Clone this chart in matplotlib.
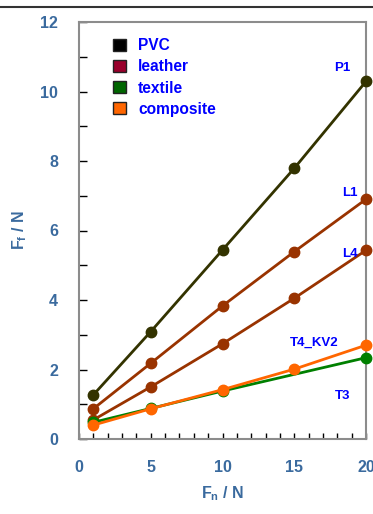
import matplotlib
matplotlib.use("Agg")
import matplotlib.pyplot as plt
from matplotlib.patches import Patch
from matplotlib.lines import Line2D

plt.rcParams['font.family'] = ['Liberation Sans', 'DejaVu Sans']
plt.rcParams['mathtext.fontset'] = 'custom'
plt.rcParams['mathtext.bf'] = 'Liberation Sans:bold'
plt.rcParams['mathtext.rm'] = 'Liberation Sans:bold'

# Friction force F_f versus normal force F_n for each material
pvc_x = [1, 5, 10, 15, 20]
pvc_y = [1.27, 3.09, 5.44, 7.79, 10.29]

l1_x = [1, 5, 10, 15, 20]
l1_y = [0.87, 2.18, 3.83, 5.39, 6.90]

l4_x = [1, 5, 10, 15, 20]
l4_y = [0.55, 1.50, 2.74, 4.05, 5.43]

t3_x = [1, 5, 10, 20]
t3_y = [0.48, 0.88, 1.38, 2.34]

kv2_x = [1, 5, 10, 15, 20]
kv2_y = [0.40, 0.87, 1.42, 2.01, 2.70]

legend_labels = ['PVC', 'leather', 'textile', 'composite']
legend_colors = ['#000000', '#99002B', '#006600', '#FF6600']

x_ticks = [0, 5, 10, 15, 20]
y_ticks = [0, 2, 4, 6, 8, 10, 12]

tick_color = '#3A6A9E'
label_color = '#0000FF'

fig = plt.figure(figsize=(3.73, 5.14), dpi=100)
ax = fig.add_axes([79 / 373, 75 / 514, 287 / 373, 417 / 514])

series = [
    (pvc_x, pvc_y, '#333300'),
    (l1_x, l1_y, '#993300'),
    (l4_x, l4_y, '#993300'),
    (t3_x, t3_y, '#008000'),
    (kv2_x, kv2_y, '#FF6600'),
]
for xs, ys, c in series:
    ax.plot(xs, ys, color=c, lw=2.0, marker='o', ms=7.5, mfc=c, mec=c,
            clip_on=False, zorder=3)

ax.set_xlim(0, 20)
ax.set_ylim(0, 12)
ax.set_xticks(x_ticks)
ax.set_yticks(y_ticks)
ax.set_xticks(range(1, 21), minor=True)
ax.set_yticks(range(1, 12, 2), minor=True)

for s in ax.spines.values():
    s.set_color('#8C8C8C')
    s.set_linewidth(1.5)

ax.tick_params(axis='both', which='both', direction='in', color='black',
               width=1.0)
ax.tick_params(axis='y', which='both', length=6, pad=15)
ax.tick_params(axis='x', which='both', length=4, pad=15)
ax.tick_params(axis='both', which='major', labelsize=11.5,
               labelcolor=tick_color)
for lbl in ax.get_xticklabels() + ax.get_yticklabels():
    lbl.set_fontweight('bold')

ax.set_xlabel(r'$\mathbf{F_n}$ / N', fontsize=11.5, fontweight='bold',
              color=tick_color, labelpad=7)
ax.set_ylabel(r'$\mathbf{F_f}$ / N', fontsize=11.5, fontweight='bold',
              color=tick_color, labelpad=8)

# Series labels at the right-hand ends
annotations = [('P1', 18.35, 10.68), ('L1', 18.9, 7.08), ('L4', 18.9, 5.32),
               ('T4_KV2', 16.4, 2.76), ('T3', 18.4, 1.24)]
for text, x, y in annotations:
    ax.text(x, y, text, color=label_color, fontsize=9.5, fontweight='bold',
            ha='center', va='center')

handles = [Patch(facecolor=c, edgecolor='#222222', lw=1.0)
           for c in legend_colors]
leg = ax.legend(handles, legend_labels, loc='upper left',
                bbox_to_anchor=(0.07, 0.995), frameon=False,
                handlelength=0.8, handleheight=0.8, handletextpad=0.8,
                labelspacing=0.4, prop={'weight': 'bold', 'size': 11.2})
for t in leg.get_texts():
    t.set_color(label_color)

# Rule across the top of the figure
fig.add_artist(Line2D([0, 1], [1 - 7 / 514, 1 - 7 / 514],
                      transform=fig.transFigure, color='#333333', lw=1.5))

fig.savefig('out.png', dpi=100)
